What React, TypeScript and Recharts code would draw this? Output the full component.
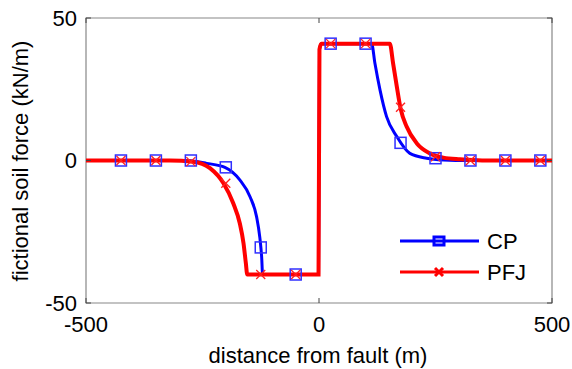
import React from "react";
import {
  ComposedChart,
  Line,
  Scatter,
  XAxis,
  YAxis,
  ReferenceArea,
} from "recharts";

// curves (x in m, y in kN/m)
const cpCurveX = [-500, -300, -277, -241, -202, -170, -148, -134, -127, -123, -121, -60, -1, 1, 5, 113, 120, 131, 145, 167, 195, 231, 267, 320, 500];
const cpCurveY = [0, 0, -0.1, -1, -2.4, -6.8, -12.7, -19.7, -27, -34, -40, -40, -40, 39, 41, 41, 34.1, 24.7, 15.4, 8.4, 2.5, 0.8, 0.2, 0, 0];

const pfjCurveX = [-500, -320, -270, -234, -205, -184, -170, -162, -157, -154, -60, -1, 1, 5, 152, 159, 167, 175, 188, 210, 238, 267, 303, 350, 500];
const pfjCurveY = [0, 0, -0.4, -2.7, -8, -15, -22, -29, -36, -40, -40, -40, 39, 41, 41, 34.1, 25.9, 18.3, 11.9, 6, 2.5, 1, 0.4, 0, 0];

// marker positions
const markerX = [-425, -350, -275, -200, -125, -50, 25, 100, 175, 250, 325, 400, 475];
const cpMarkerY = [0, 0, 0, -2.4, -30.5, -40, 41, 41, 6.2, 0.8, 0, 0, 0];
const pfjMarkerY = [0, 0, -0.4, -8, -40, -40, 41, 41, 18.7, 1.3, 0, 0, 0];

const xTicks = [-500, 0, 500];
const yTicks = [-50, 0, 50];

const zip = (xs: number[], ys: number[]) => xs.map((x, i) => ({ x, y: ys[i] }));
const cpCurve = zip(cpCurveX, cpCurveY);
const pfjCurve = zip(pfjCurveX, pfjCurveY);
const cpMarkers = zip(markerX, cpMarkerY);
const pfjMarkers = zip(markerX, pfjMarkerY);

const BLUE = "#0000ff";
const RED = "#ff0000";
const FONT = "'Liberation Sans', Arial, Helvetica, sans-serif";
const FS = 22;

// plot box (px)
const PLOT_TOP = 18;
const PLOT_BOTTOM = 303;
const PLOT_LEFT = 86;
const PLOT_RIGHT = 552;
const TICK_LEN = 5;

const XTick = (props: any) => {
  const { x, y, payload } = props;
  return (
    <g>
      <line x1={x} y1={PLOT_BOTTOM} x2={x} y2={PLOT_BOTTOM - TICK_LEN} stroke="#444" />
      <line x1={x} y1={PLOT_TOP} x2={x} y2={PLOT_TOP + TICK_LEN} stroke="#444" />
      <text x={x} y={y} dy="0.71em" textAnchor="middle" fill="#000" fontSize={FS} fontFamily={FONT}>
        {payload.value}
      </text>
    </g>
  );
};

const YTick = (props: any) => {
  const { x, y, payload } = props;
  return (
    <g>
      <line x1={PLOT_LEFT} y1={y} x2={PLOT_LEFT + TICK_LEN} y2={y} stroke="#444" />
      <line x1={PLOT_RIGHT} y1={y} x2={PLOT_RIGHT - TICK_LEN} y2={y} stroke="#444" />
      <text x={x} y={y} dy="0.35em" textAnchor="end" fill="#000" fontSize={FS} fontFamily={FONT}>
        {payload.value}
      </text>
    </g>
  );
};

const SquareMark = (props: any) => {
  const { cx, cy } = props;
  if (cx == null || cy == null) return null;
  return <rect x={cx - 5.5} y={cy - 5.5} width={11} height={11} fill="none" stroke="#3030ff" strokeWidth={1.5} />;
};

const CrossMark = (props: any) => {
  const { cx, cy } = props;
  if (cx == null || cy == null) return null;
  const s = 4.5;
  return (
    <g stroke="#ff2020" strokeWidth={1.3}>
      <line x1={cx - s} y1={cy - s} x2={cx + s} y2={cy + s} />
      <line x1={cx - s} y1={cy + s} x2={cx + s} y2={cy - s} />
    </g>
  );
};

const LegendBox = () => (
  <svg width={150} height={64} style={{ display: "block" }}>
    <line x1={5} y1={16} x2={84} y2={16} stroke={BLUE} strokeWidth={3} />
    <rect x={39} y={12} width={10} height={8} fill="none" stroke={BLUE} strokeWidth={3} />
    <text x={92} y={16} dy="0.35em" fontSize={FS} fontFamily={FONT} fill="#000">CP</text>
    <line x1={5} y1={47} x2={84} y2={47} stroke={RED} strokeWidth={3} />
    <g stroke={RED} strokeWidth={3}>
      <line x1={40} y1={43} x2={48} y2={51} />
      <line x1={40} y1={51} x2={48} y2={43} />
    </g>
    <text x={92} y={47} dy="0.35em" fontSize={FS} fontFamily={FONT} fill="#000">PFJ</text>
  </svg>
);

export default function App() {
  return (
    <div style={{ position: "absolute", left: 0, top: 0, width: 572, height: 369, background: "#fff" }}>
      <ComposedChart
        width={572}
        height={369}
        margin={{ top: 18, right: 20, bottom: 36, left: 26 }}
      >
        <ReferenceArea x1={-500} x2={500} y1={-50} y2={50} fill="none" stroke="#888" strokeWidth={1.2} />
        <XAxis
          type="number"
          dataKey="x"
          domain={[-500, 500]}
          ticks={xTicks}
          allowDataOverflow
          height={30}
          axisLine={false}
          tickLine={false}
          tickSize={0}
          tickMargin={13}
          tick={<XTick />}
          interval={0}
          label={{
            content: () => (
              <text x={318} y={355} dy="0.35em" textAnchor="middle" fontSize={FS} fontFamily={FONT} fill="#000">
                distance from fault (m)
              </text>
            ),
          }}
        />
        <YAxis
          type="number"
          dataKey="y"
          domain={[-50, 50]}
          ticks={yTicks}
          allowDataOverflow
          width={60}
          axisLine={false}
          tickLine={false}
          tickSize={0}
          tickMargin={9}
          tick={<YTick />}
          interval={0}
          label={{
            content: () => (
              <text
                x={20}
                y={161}
                dy="0.35em"
                textAnchor="middle"
                transform="rotate(-90 20 161)"
                fontSize={FS}
                fontFamily={FONT}
                fill="#000"
              >
                fictional soil force (kN/m)
              </text>
            ),
          }}
        />
        <Line
          data={cpCurve}
          dataKey="y"
          type="monotone"
          stroke={BLUE}
          strokeWidth={3}
          dot={false}
          activeDot={false}
          isAnimationActive={false}
        />
        <Line
          data={pfjCurve}
          dataKey="y"
          type="monotone"
          stroke={RED}
          strokeWidth={4}
          dot={false}
          activeDot={false}
          isAnimationActive={false}
        />
        <Scatter data={cpMarkers} dataKey="y" shape={<SquareMark />} isAnimationActive={false} />
        <Scatter data={pfjMarkers} dataKey="y" shape={<CrossMark />} isAnimationActive={false} />
      </ComposedChart>
      <div style={{ position: "absolute", left: 395, top: 225 }}>
        <LegendBox />
      </div>
    </div>
  );
}
